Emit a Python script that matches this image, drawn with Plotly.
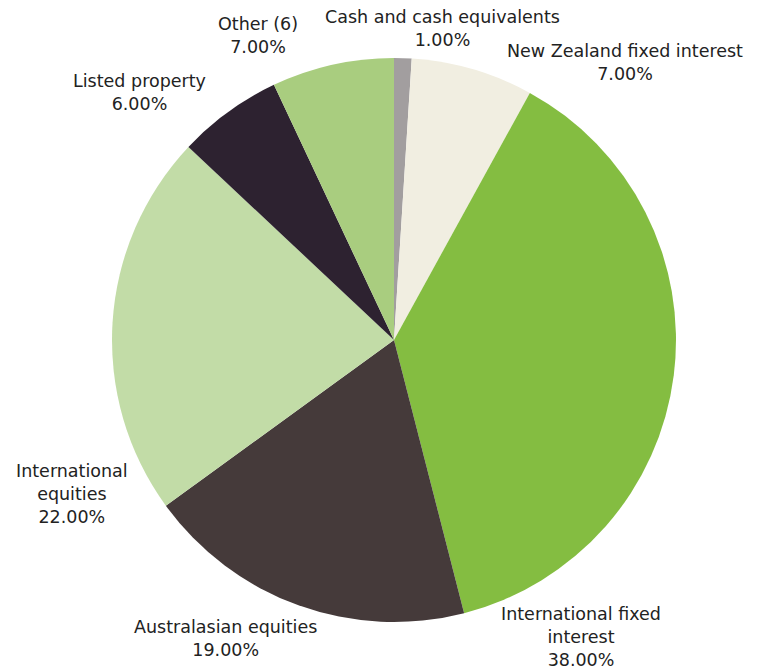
import plotly.graph_objects as go

labels = ["Cash and cash equivalents", "New Zealand fixed interest", "International fixed interest",
          "Australasian equities", "International equities", "Listed property", "Other (6)"]
display_labels = ["Cash and cash equivalents", "New Zealand fixed interest", "International fixed<br>interest",
                  "Australasian equities", "International<br>equities", "Listed property", "Other (6)"]
values = [1.0, 7.0, 38.0, 19.0, 22.0, 6.0, 7.0]
colors = ["#a29e9f", "#f1eee1", "#84bd41", "#453a3a", "#c2dca7", "#2d2230", "#a9cd7f"]

# label centre positions in pixels (x from left, y from top)
label_pos = [(442, 29), (625, 63), (581, 637), (225, 638), (72, 494), (139, 93), (258, 36)]

W, H = 766, 668
cx, cy, r = 394, 340, 282

fig = go.Figure(go.Pie(
    labels=labels, values=values, sort=False, direction="clockwise", rotation=0,
    marker=dict(colors=colors, line=dict(width=0)), textinfo="none", hoverinfo="label+percent",
    domain=dict(x=[(cx - r) / W, (cx + r) / W], y=[(H - cy - r) / H, (H - cy + r) / H]),
    showlegend=False,
))

anns = []
for lab, v, (px, py) in zip(display_labels, values, label_pos):
    anns.append(dict(x=px / W, y=1 - py / H, xref="paper", yref="paper",
                     xanchor="center", yanchor="middle",
                     text=f"{lab}<br>{v:.2f}%", showarrow=False, align="center",
                     font=dict(family="DejaVu Sans", size=17.5, color="#222222")))

fig.update_layout(width=W, height=H, margin=dict(l=0, r=0, t=0, b=0), paper_bgcolor="white",
                  annotations=anns)
fig.write_html("out.html", config={"displayModeBar": False},
               post_script="document.body.style.margin='0';document.body.style.overflow='hidden';")
